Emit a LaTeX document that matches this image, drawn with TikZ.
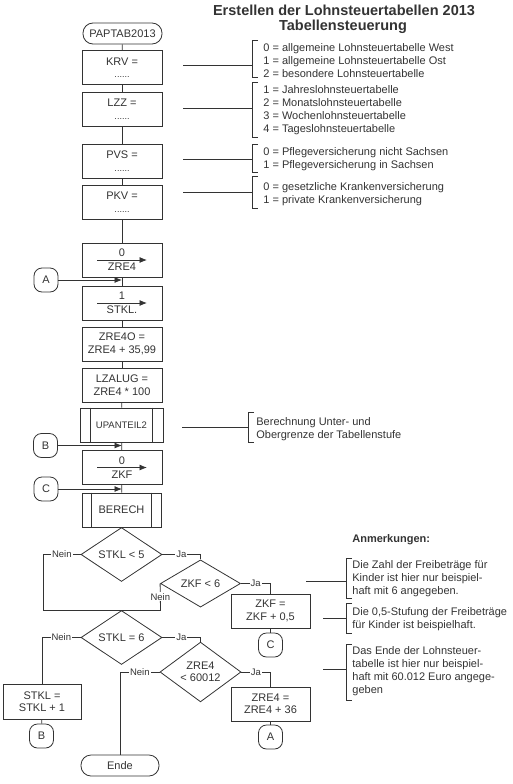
\documentclass[tikz,border=0pt]{standalone}
\usepackage{fontspec}
\setmainfont{Liberation Sans}
\usetikzlibrary{shapes.geometric,arrows.meta}
\definecolor{ink}{gray}{0.2}
\newcommand{\mydots}{{\fontsize{9}{9}\selectfont ......}}
\newcommand{\brk}[3]{\draw (#1+6,#2) -- (#1,#2) -- (#1,#3) -- (#1+6,#3);}
\begin{document}
\begin{tikzpicture}[x=1pt,y=-1pt,color=ink,line width=0.8pt,
  box/.style={draw,rectangle,minimum width=80pt,minimum height=34pt,inner sep=0pt,align=center,font=\fontsize{11}{12.5}\selectfont},
  asg/.style={box,font=\fontsize{11}{14}\selectfont},
  term/.style={draw,rectangle,rounded corners=10pt,minimum width=79pt,minimum height=21pt,inner sep=0pt,font=\fontsize{11}{12}\selectfont},
  conn/.style={draw,rectangle,rounded corners=8pt,minimum width=24pt,minimum height=24pt,inner sep=0pt,font=\fontsize{11}{12}\selectfont},
  dec/.style={draw,diamond,inner sep=0pt,align=center,font=\fontsize{11}{12}\selectfont},
  lbl/.style={fill=white,inner sep=1pt,font=\fontsize{9.5}{11}\selectfont},
  note/.style={anchor=west,inner sep=0pt,align=left,font=\fontsize{11}{13}\selectfont},
  arr/.style={-{Latex[length=7.5pt,width=6pt]}}
]
\useasboundingbox (0,0) rectangle (513,784);

% title
\node[font=\fontsize{14.5}{17}\bfseries] (t1) at (344,10) {Erstellen der Lohnsteuertabellen 2013};
\node[font=\fontsize{14.5}{17}\bfseries] (t2) at (343,27) {Tabellensteuerung};

% main column
\node[term] (start) at (122.5,33.5) {PAPTAB2013};
\node[box] (krv) at (122,67.5) {KRV =\\\mydots};
\node[box] (lzz) at (122,109) {LZZ =\\\mydots};
\node[box] (pvs) at (122,161) {PVS =\\\mydots};
\node[box] (pkv) at (122,202) {PKV =\\\mydots};
\node[asg] (z4) at (122,260) {0\\ZRE4};
\node[asg] (stk) at (122,303) {1\\STKL.};
\node[box] (z4o) at (122,344) {ZRE4O =\\ZRE4 + 35,99};
\node[box] (lza) at (122,385) {LZALUG =\\ZRE4 * 100};
\node[box,minimum width=83pt,font=\fontsize{9.5}{11}\selectfont] (upa) at (121.5,425) {UPANTEIL2};
\node[asg] (zkf) at (122,467.5) {0\\ZKF};
\node[box,minimum width=79pt] (ber) at (121.5,510) {BERECH};

\draw[arr] ([xshift=-25pt]z4.center) -- ([xshift=25pt]z4.center);
\draw[arr] ([xshift=-25pt]stk.center) -- ([xshift=25pt]stk.center);
\draw[arr] ([xshift=-25pt]zkf.center) -- ([xshift=25pt]zkf.center);
\draw ([xshift=11pt]upa.north west) -- ([xshift=11pt]upa.south west);
\draw ([xshift=-11pt]upa.north east) -- ([xshift=-11pt]upa.south east);
\draw ([xshift=10pt]ber.north west) -- ([xshift=10pt]ber.south west);
\draw ([xshift=-10pt]ber.north east) -- ([xshift=-10pt]ber.south east);

\draw (start) -- (krv);
\draw (krv) -- (lzz);
\draw (lzz) -- (pvs);
\draw (pvs) -- (pkv);
\draw (pkv) -- (z4);
\draw (z4) -- (stk);
\draw (stk) -- (z4o);
\draw (z4o) -- (lza);
\draw (lza) -- (upa);
\draw (upa) -- (zkf);
\draw (zkf) -- (ber);

% connectors on the left
\node[conn] (ca) at (46,280) {A};
\node[conn] (cb) at (45.5,445.5) {B};
\node[conn] (cc) at (46,489) {C};
\draw[arr] (ca.east) -- (ca.east -| krv.center);
\draw[arr] (cb.east) -- (cb.east -| krv.center);
\draw[arr] (cc.east) -- (cc.east -| krv.center);

% decisions
\node[dec,minimum width=81pt,minimum height=46pt] (d1) at (121.5,554.5) {STKL < 5};
\node[dec,minimum width=80pt,minimum height=47pt] (d2) at (200.5,583.5) {ZKF < 6};
\node[dec,minimum width=81pt,minimum height=49pt] (d3) at (121.5,637.5) {STKL = 6};
\node[dec,minimum width=81pt,minimum height=48pt] (d4) at (200.5,672) {ZRE4\\< 60012};
\node[box,minimum width=79pt] (zkfp) at (270.5,611) {ZKF =\\ZKF + 0,5};
\node[box,minimum width=79pt] (zrep) at (270.5,704) {ZRE4 =\\ZRE4 + 36};
\node[box,minimum width=78pt,minimum height=35pt] (stp) at (42,701.5) {STKL =\\STKL + 1};
\node[conn] (cc2) at (270.5,645) {C};
\node[conn] (ca2) at (270.5,737) {A};
\node[conn] (cb2) at (41.5,736) {B};
\node[term,minimum width=78pt] (ende) at (120,765.5) {Ende};

\draw (ber) -- (d1);
\coordinate (jl) at (43,610);
\coordinate (jr) at (160.5,610);
\draw (d1.west) -| node[lbl,pos=0.25] {Nein} (jl);
\draw (jl) -- (jr);
\draw (d2.west) -- node[lbl] {Nein} (jr);
\draw (d3.north) -- (d3.north |- jl);
\draw (d1.east) -| node[lbl,pos=0.25] {Ja} (d2.north);
\draw (d2.east) -| node[lbl,pos=0.25] {Ja} (zkfp.north);
\draw (zkfp) -- (cc2);
\draw (d3.west) -| node[lbl,pos=0.25] {Nein} (stp.north);
\draw (stp) -- (cb2);
\draw (d3.east) -| node[lbl,pos=0.25] {Ja} (d4.north);
\draw (d4.west) -| node[lbl,pos=0.25] {Nein} (ende.north);
\draw (d4.east) -| node[lbl,pos=0.25] {Ja} (zrep.north);
\draw (zrep) -- (ca2);

% annotations top right
\node[note] (n1) at (263,61) {0 = allgemeine Lohnsteuertabelle West\\1 = allgemeine Lohnsteuertabelle Ost\\2 = besondere Lohnsteuertabelle};
\node[note] (n2) at (263,110.5) {1 = Jahreslohnsteuertabelle\\2 = Monatslohnsteuertabelle\\3 = Wochenlohnsteuertabelle\\4 = Tageslohnsteuertabelle};
\node[note] (n3) at (263,159) {0 = Pflegeversicherung nicht Sachsen\\1 = Pflegeversicherung in Sachsen};
\node[note] (n4) at (263,194.5) {0 = gesetzliche Krankenversicherung\\1 = private Krankenversicherung};
\node[note] (n5) at (256,429) {Berechnung Unter- und\\Obergrenze der Tabellenstufe};
\brk{252}{40}{77}
\brk{252}{82}{137}
\brk{252}{144}{172}
\brk{252}{176}{208}
\brk{248}{412}{442}
\coordinate (l1) at (183,65);  \draw (l1) -- (252,65);
\coordinate (l2) at (183,108); \draw (l2) -- (252,108);
\coordinate (l3) at (183,159); \draw (l3) -- (252,159);
\coordinate (l4) at (183,192); \draw (l4) -- (252,192);
\coordinate (l5) at (182,427); \draw (l5) -- (248,427);

% remarks
\node[note,font=\fontsize{11}{13}\bfseries] (anm) at (352,540) {Anmerkungen:};
\node[note] (r1) at (352,578.5) {Die Zahl der Freibeträge für\\Kinder ist hier nur beispiel-\\haft mit 6 angegeben.};
\node[note] (r2) at (352,619.5) {Die 0,5-Stufung der Freibeträge\\für Kinder ist beispielhaft.};
\node[note] (r3) at (352,671.5) {Das Ende der Lohnsteuer-\\tabelle ist hier nur beispiel-\\haft mit 60.012 Euro angege-\\geben};
\brk{346}{558}{598}
\brk{346}{603}{633}
\brk{346}{644}{700}
\coordinate (l6) at (306,581); \draw (l6) -- (346,581);
\coordinate (l7) at (323,618); \draw (l7) -- (346,618);
\coordinate (l8) at (323,669); \draw (l8) -- (346,669);
\end{tikzpicture}
\end{document}
